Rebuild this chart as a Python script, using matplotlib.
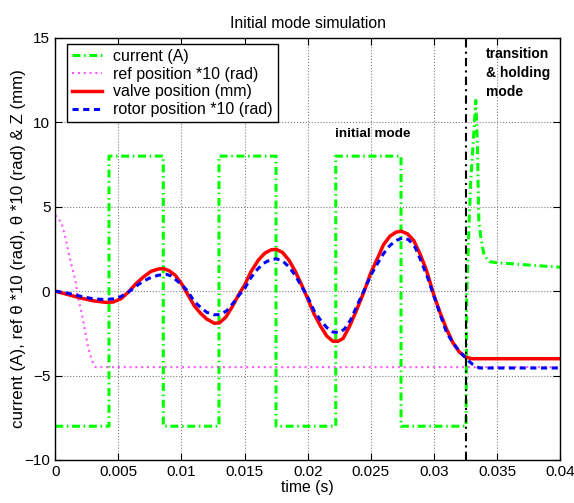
import numpy as np
import matplotlib
matplotlib.use('Agg')
import matplotlib.pyplot as plt
from matplotlib.ticker import FormatStrFormatter

plt.rcParams['font.family'] = ['Liberation Sans', 'DejaVu Sans']
plt.rcParams['font.size'] = 11

# current (A)
t_cur = [0, 0.00426, 0.00426, 0.00856, 0.00856, 0.01297, 0.01297, 0.01749, 0.01749,
         0.02222, 0.02222, 0.02739, 0.02739, 0.03254, 0.0326, 0.03265, 0.03278, 0.03291,
         0.03305, 0.0332, 0.03331, 0.03345, 0.0335, 0.03355, 0.03371, 0.03397, 0.03442,
         0.03508, 0.03627, 0.038, 0.04]
i_cur = [-8, -8, 8, 8, -8, -8, 8, 8, -8,
         -8, 8, 8, -8, -8, 0, 1, 4, 6.5,
         8.1, 9.9, 11.3, 8.5, 6.2, 4.2, 3.2, 2.1, 1.75,
         1.67, 1.62, 1.52, 1.42]

# ref position *10 (rad)
t_ref = [0, 0.0005, 0.0008, 0.001, 0.0013, 0.0016, 0.0018, 0.0021, 0.0024, 0.0026, 0.0029, 0.0032, 0.04]
ref = [4.5, 4.05, 3.2, 2.5, 1.5, 0.65, -0.4, -1.3, -2.5, -3.3, -4.1, -4.5, -4.5]

# valve position (mm)
t_valve = [0.0, 0.001, 0.002, 0.003, 0.004, 0.0046, 0.0052, 0.0058, 0.0064, 0.007, 0.0076,
           0.0082, 0.0086, 0.009, 0.0095, 0.01, 0.0105, 0.011, 0.0115, 0.012, 0.0126, 0.013,
           0.0135, 0.014, 0.0145, 0.015, 0.0155, 0.0161, 0.0166, 0.0171, 0.0175, 0.018,
           0.0185, 0.019, 0.0195, 0.02, 0.0205, 0.021, 0.0215, 0.022, 0.0224, 0.0228,
           0.0233, 0.0238, 0.0245, 0.025, 0.0255, 0.026, 0.0265, 0.027, 0.0274, 0.0279,
           0.0284, 0.0289, 0.0294, 0.03, 0.0305, 0.031, 0.0315, 0.032, 0.0325, 0.033, 0.04]
valve = [0.0, -0.2, -0.4, -0.57, -0.66, -0.64, -0.45, -0.05, 0.45, 0.85, 1.18,
         1.32, 1.33, 1.22, 0.95, 0.45, -0.2, -0.85, -1.3, -1.65, -1.9, -1.88,
         -1.55, -0.95, -0.25, 0.36, 1.15, 1.85, 2.25, 2.45, 2.48, 2.3,
         1.85, 1.2, 0.4, -0.45, -1.35, -2.05, -2.65, -2.97, -2.97, -2.8,
         -2.1, -1.25, 0.05, 1.1, 1.9, 2.75, 3.25, 3.5, 3.55, 3.4,
         3.0, 2.2, 1.25, -0.25, -1.3, -2.25, -3.05, -3.6, -3.9, -4.0, -4.0]

# rotor position *10 (rad)
t_rotor = [0.0, 0.001, 0.002, 0.003, 0.004, 0.0046, 0.0052, 0.0058, 0.0064, 0.007, 0.0076,
           0.0082, 0.0088, 0.0092, 0.0096, 0.01, 0.0105, 0.011, 0.0115, 0.012, 0.0126, 0.0131,
           0.0136, 0.0141, 0.0146, 0.015, 0.0155, 0.016, 0.0165, 0.017, 0.0175, 0.018,
           0.0185, 0.019, 0.0195, 0.02, 0.0205, 0.021, 0.0215, 0.022, 0.0225, 0.0229,
           0.0234, 0.024, 0.0245, 0.025, 0.0255, 0.026, 0.0265, 0.027, 0.0275, 0.028,
           0.0285, 0.029, 0.0295, 0.03, 0.0305, 0.031, 0.0315, 0.032, 0.0325, 0.033, 0.0336, 0.04]
rotor = [0.0, -0.12, -0.3, -0.45, -0.5, -0.45, -0.32, -0.05, 0.3, 0.6, 0.82,
         0.95, 1.0, 0.9, 0.65, 0.4, 0.0, -0.6, -0.95, -1.25, -1.4, -1.38,
         -1.15, -0.7, -0.2, 0.15, 0.8, 1.28, 1.65, 1.85, 1.92, 1.8,
         1.45, 0.95, 0.3, -0.35, -1.15, -1.7, -2.15, -2.42, -2.45, -2.25,
         -1.7, -0.7, 0.1, 0.95, 1.6, 2.22, 2.7, 3.0, 3.16, 3.05,
         2.61, 1.75, 0.8, -0.3, -1.4, -2.45, -3.05, -3.55, -3.95, -4.3, -4.55, -4.55]

t_switch = 0.0325
xticks = [0, 0.005, 0.01, 0.015, 0.02, 0.025, 0.03, 0.035, 0.04]
yticks = [-10, -5, 0, 5, 10, 15]

fig = plt.figure(figsize=(5.74, 5.03), dpi=100)
ax = fig.add_axes([0.0962, 0.0855, 0.8798, 0.839])

ax.plot(t_cur, i_cur, color='#00ff00', lw=2.2, dashes=(2.6, 1.2, 0.5, 1.2), label='current (A)')
ax.plot(t_ref, ref, color='#ff55ff', lw=1.5, dashes=(1, 1.8), label='ref position *10 (rad)')
ax.plot(t_valve, valve, color='red', lw=2.5, label='valve position (mm)')
ax.plot(t_rotor, rotor, color='blue', lw=2.2, dashes=(2, 1.5), label='rotor position *10 (rad)')
ax.plot([t_switch, t_switch], [-10, 15], color='black', lw=1.5, dashes=(4, 2, 1, 2))

ax.text(0.02216, 9.14, 'initial mode', fontsize=9.7, fontweight='bold', va='baseline')
ax.text(0.03412, 14.45, 'transition\n& holding\nmode', fontsize=10, fontweight='bold',
        va='top', linespacing=1.45)

ax.set_xlim(0, 0.04)
ax.set_ylim(-10, 15)
ax.set_xticks(xticks)
ax.set_yticks(yticks)
ax.xaxis.set_major_formatter(FormatStrFormatter('%g'))
ax.tick_params(direction='in', top=True, right=True, length=5, labelsize=11)
ax.grid(True, color='#808080', linestyle=':', lw=0.8)
for s in ax.spines.values():
    s.set_linewidth(1.0)

ax.set_title('Initial mode simulation', fontsize=11.3, pad=7)
ax.set_xlabel('time (s)', fontsize=11.3, labelpad=1)
ax.set_ylabel('current (A), ref \u03b8 *10 (rad), \u03b8 *10 (rad) & Z (mm)', fontsize=12.2, labelpad=-1)

leg = ax.legend(loc='upper left', bbox_to_anchor=(0.0234, 0.986), borderaxespad=0,
                fancybox=False, edgecolor='black', framealpha=1, handlelength=1.9,
                handletextpad=0.7, labelspacing=0.18, borderpad=0.3, fontsize=11.5)
leg.get_frame().set_linewidth(1.0)

fig.savefig('out.png', dpi=100)
